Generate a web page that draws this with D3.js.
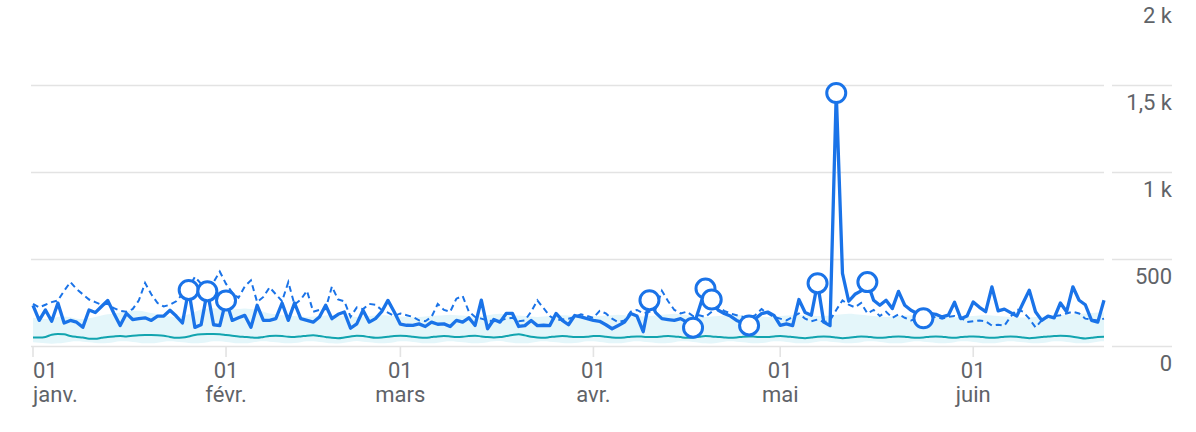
<!DOCTYPE html>
<html lang="fr">
<head>
<meta charset="utf-8">
<script src="https://cdn.jsdelivr.net/npm/d3@7"></script>
<style>
  html, body { margin: 0; padding: 0; background: #fff; }
  svg { display: block; font-family: Roboto, 'Noto Sans', sans-serif; }
  .axis-label { fill: #5f6368; font-size: 22px; }
</style>
</head>
<body>
<svg id="chart" width="1196" height="432"></svg>
<script>
'use strict'

const WIDTH = 1196
const HEIGHT = 432
const blue = '#1a73e8'
const teal = '#12a4af'
const bandColor = '#e4f6fa'
const gridColor = '#e3e3e3'

// one value per day, 1 Jan -> 22 Jun
const startDate = new Date(2023, 0, 1)
const endDate = new Date(2023, 5, 22)

const sessions = [
  237, 150, 210, 145, 250, 135, 150, 140, 110, 210, 195, 230, 265, 190, 120, 190,
  155, 160, 165, 150, 175, 175, 208, 175, 135, 325, 110, 125, 318, 125, 120, 265,
  150, 165, 179, 110, 237, 150, 150, 160, 250, 150, 250, 160, 150, 140, 170, 237,
  160, 185, 198, 105, 130, 208, 140, 160, 200, 265, 200,
  128, 122, 121, 130, 115, 140, 128, 130, 115, 150, 140, 165, 121, 266, 102, 155,
  140, 190, 190, 115, 120, 150, 120, 122, 120, 190, 150, 125, 178, 170, 160, 150,
  145, 125, 102, 121, 140, 190, 175, 85, 266, 195, 160, 155, 150, 160, 140, 108,
  220, 333, 270, 210, 190, 175, 150, 135, 121, 160, 189, 198, 179, 121,
  130, 120, 270, 195, 180, 364, 140, 120, 1457, 420, 260, 300, 320, 370, 266, 237,
  266, 218, 317, 237, 208, 190, 162, 190, 185, 170, 180, 254, 160, 175, 256, 225,
  200, 343, 205, 215, 195, 175, 250, 324, 200, 150, 175, 165, 250, 200, 343, 266,
  240, 150, 140, 266
]

const previousPeriod = [
  245, 225, 240, 255, 265, 320, 370, 330, 300, 270, 255, 240, 245, 220, 205, 200,
  215, 265, 365, 300, 250, 230, 240, 260, 300, 335, 400, 360, 310, 370, 430, 360,
  310, 280, 345, 380, 255, 285, 340, 300, 260, 370, 240, 270, 320, 200, 210, 215,
  345, 270, 260, 170, 225, 215, 245, 240, 210, 195, 175,
  190, 180, 170, 150, 145, 170, 245, 210, 200, 275, 290, 200, 170, 160, 150, 145,
  150, 160, 165, 145, 150, 200, 265, 220, 175, 150, 155, 160, 170, 185, 175, 165,
  205, 190, 160, 140, 150, 200, 210, 190, 200, 215, 320, 260, 210, 190, 200, 175,
  180, 170, 200, 230, 205, 190, 180, 170, 165, 180, 215, 190, 170, 160,
  150, 170, 190, 160, 145, 155, 140, 150, 210, 265, 240, 225, 250, 190, 210, 175,
  200, 165, 185, 165, 150, 160, 175, 165, 170, 160, 170, 175, 165, 140, 145, 150,
  145, 120, 125, 120, 170, 215, 200, 160, 110, 150, 170, 175, 180, 190, 200, 190,
  160, 155, 150, 160
]

const baseline = [
  52, 52, 55, 68, 72, 70, 60, 55, 52, 45, 45, 50, 55, 58, 60, 58,
  62, 65, 66, 66, 65, 62, 55, 50, 52, 58, 66, 70, 72, 72, 70, 66,
  62, 58, 55, 52, 50, 55, 60, 62, 60, 56, 55, 58, 62, 64, 60, 55,
  50, 48, 52, 58, 62, 60, 54, 50, 52, 56, 60,
  62, 60, 56, 52, 50, 54, 58, 60, 58, 55, 56, 60, 62, 58, 54, 52,
  54, 60, 66, 70, 64, 56, 52, 50, 54, 58, 60, 58, 55, 54, 56, 60,
  60, 56, 52, 50, 52, 56, 58, 56, 54, 55, 58, 60, 58, 54, 50, 52,
  56, 60, 58, 55, 52, 50, 52, 56, 58, 56, 54, 55, 58, 60,
  58, 54, 50, 48, 52, 56, 58, 56, 52, 48, 50, 54, 58, 56, 52, 50,
  52, 56, 58, 56, 52, 50, 52, 56, 58, 56, 52, 50, 54, 56, 58, 56,
  52, 50, 52, 56, 58, 56, 52, 48, 50, 54, 58, 60, 62, 60, 56, 50,
  46, 50, 55, 56
]

const rangeHigh = [
  165, 160, 158, 162, 170, 172, 168, 160, 158, 162, 170, 178, 185, 190, 195, 200,
  205, 205, 200, 192, 185, 178, 172, 170, 175, 185, 200, 212, 218, 220, 215, 210,
  212, 215, 218, 215, 210, 200, 190, 185, 180, 178, 175, 172, 170, 172, 175, 178,
  180, 178, 175, 172, 170, 172, 175, 178, 180, 178, 175,
  172, 170, 168, 170, 172, 175, 178, 180, 182, 180, 178, 175, 172, 175, 180, 185,
  188, 185, 180, 178, 175, 172, 170, 172, 175, 178, 180, 178, 175, 172, 170, 172,
  175, 178, 180, 182, 180, 178, 175, 172, 175, 178, 182, 185, 188, 185, 180, 176,
  172, 170, 172, 175, 178, 180, 182, 180, 178, 175, 172, 170, 172, 175,
  178, 180, 182, 180, 178, 176, 175, 178, 182, 185, 188, 186, 182, 178, 175, 172,
  170, 172, 175, 178, 180, 182, 180, 178, 175, 172, 170, 168, 170, 172, 175, 178,
  180, 178, 175, 172, 170, 168, 166, 168, 170, 172, 175, 178, 180, 182, 185, 188,
  190, 192, 195, 195
]

const rangeLow = [
  25, 22, 18, 16, 18, 22, 28, 30, 28, 24, 20, 18, 20, 25, 30, 30,
  26, 22, 18, 18, 22, 28, 30, 28, 24, 20, 18, 20, 25, 30, 30, 26,
  22, 18, 18, 22, 28, 30, 28, 24, 20, 18, 20, 25, 30, 30, 26, 22,
  18, 17, 22, 28, 31, 28, 24, 20, 18, 20, 25,
  30, 30, 26, 22, 18, 18, 22, 28, 30, 28, 24, 20, 18, 20, 25, 30,
  31, 26, 22, 18, 18, 22, 28, 30, 28, 24, 20, 18, 20, 25, 30, 30,
  26, 22, 18, 18, 22, 28, 30, 28, 24, 20, 18, 20, 25, 30, 30, 26,
  22, 18, 17, 22, 28, 30, 28, 24, 20, 18, 20, 25, 30, 30,
  26, 22, 18, 18, 22, 28, 30, 28, 24, 20, 18, 20, 25, 30, 30, 26,
  22, 18, 18, 22, 28, 30, 28, 24, 20, 18, 20, 25, 30, 30, 26, 22,
  18, 18, 22, 28, 30, 28, 24, 20, 18, 20, 25, 30, 30, 26, 22, 18,
  18, 22, 28, 30
]

// days flagged as anomalies (index from 1 Jan)
const anomalyDays = [25, 28, 31, 99, 106, 108, 109, 115, 126, 129, 134, 143]

const yTicks = [0, 500, 1000, 1500, 2000]
const monthLabels = ['janv.', 'févr.', 'mars', 'avr.', 'mai', 'juin']

const PLOT_LEFT = 33
const PLOT_RIGHT = 1104
const LABEL_RIGHT = 1172

function formatValue (v) {
  if (v < 1000) return String(v)
  return String(v / 1000).replace('.', ',') + ' k'
}

function main () {
  const svg = d3.select('#chart').attr('width', WIDTH).attr('height', HEIGHT)

  const days = sessions.map((v, i) => ({
    date: d3.timeDay.offset(startDate, i),
    value: v,
    previous: previousPeriod[i],
    base: baseline[i],
    high: rangeHigh[i],
    low: rangeLow[i]
  }))

  const x = d3.scaleTime().domain([startDate, endDate]).range([PLOT_LEFT, PLOT_RIGHT])
  const y = d3.scaleLinear().domain([0, 2000]).range([346.5, -1.5])

  // grid + y labels
  const grid = svg.append('g')
  grid.selectAll('line.main')
    .data(yTicks)
    .enter()
    .append('line')
    .attr('x1', PLOT_LEFT - 2)
    .attr('x2', PLOT_RIGHT)
    .attr('y1', (d) => y(d))
    .attr('y2', (d) => y(d))
    .attr('stroke', gridColor)
    .attr('stroke-width', 1.6)
  grid.selectAll('line.side')
    .data(yTicks)
    .enter()
    .append('line')
    .attr('x1', 1112)
    .attr('x2', LABEL_RIGHT)
    .attr('y1', (d) => y(d))
    .attr('y2', (d) => y(d))
    .attr('stroke', gridColor)
    .attr('stroke-width', 1.6)
  grid.selectAll('text')
    .data(yTicks)
    .enter()
    .append('text')
    .attr('class', 'axis-label')
    .attr('x', LABEL_RIGHT)
    .attr('y', (d) => y(d) + 24)
    .attr('text-anchor', 'end')
    .text(formatValue)

  // x axis ticks and labels
  const months = d3.timeMonth.range(startDate, endDate)
  const xAxis = svg.append('g')
  xAxis.selectAll('line')
    .data(months)
    .enter()
    .append('line')
    .attr('x1', (d) => x(d))
    .attr('x2', (d) => x(d))
    .attr('y1', y(0))
    .attr('y2', y(0) + 10.5)
    .attr('stroke', gridColor)
    .attr('stroke-width', 1.6)
  const labels = xAxis.selectAll('text')
    .data(months)
    .enter()
    .append('text')
    .attr('class', 'axis-label')
    .attr('text-anchor', (d, i) => i === 0 ? 'start' : 'middle')
  labels.append('tspan')
    .attr('x', (d) => x(d))
    .attr('y', 377.5)
    .text('01')
  labels.append('tspan')
    .attr('x', (d) => x(d))
    .attr('y', 401.5)
    .text((d, i) => monthLabels[i])

  // expected range band
  svg.append('path')
    .datum(days)
    .attr('fill', bandColor)
    .attr('d', d3.area()
      .x((d) => x(d.date))
      .y0((d) => y(d.low))
      .y1((d) => y(d.high))
      .curve(d3.curveMonotoneX))

  svg.append('path')
    .datum(days)
    .attr('fill', 'none')
    .attr('stroke', teal)
    .attr('stroke-width', 2)
    .attr('d', d3.line()
      .x((d) => x(d.date))
      .y((d) => y(d.base))
      .curve(d3.curveMonotoneX))

  svg.append('path')
    .datum(days)
    .attr('fill', 'none')
    .attr('stroke', blue)
    .attr('stroke-width', 2)
    .attr('stroke-dasharray', '6,4')
    .attr('d', d3.line()
      .x((d) => x(d.date))
      .y((d) => y(d.previous)))

  svg.append('path')
    .datum(days)
    .attr('fill', 'none')
    .attr('stroke', blue)
    .attr('stroke-width', 3.3)
    .attr('stroke-linejoin', 'round')
    .attr('d', d3.line()
      .x((d) => x(d.date))
      .y((d) => y(d.value)))

  svg.selectAll('circle.anomaly')
    .data(anomalyDays.map((i) => days[i]))
    .enter()
    .append('circle')
    .attr('class', 'anomaly')
    .attr('cx', (d) => x(d.date))
    .attr('cy', (d) => y(d.value))
    .attr('r', 9.5)
    .attr('fill', '#fff')
    .attr('stroke', blue)
    .attr('stroke-width', 3)
}

main()
</script>
</body>
</html>
